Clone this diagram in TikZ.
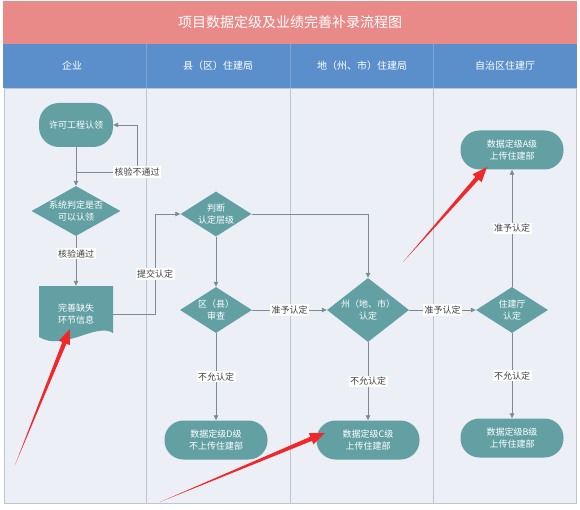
\documentclass[tikz,border=0pt]{standalone}
\usepackage{fontspec}
\setmainfont{Noto Sans CJK SC}
\usepackage{tikz}
\usetikzlibrary{arrows.meta,shapes.geometric,calc}

\definecolor{titlered}{HTML}{E98A88}
\definecolor{headblue}{HTML}{5B8FCC}
\definecolor{lanebg}{HTML}{ECF0F6}
\definecolor{laneline}{HTML}{BAC6D6}
\definecolor{nodeteal}{HTML}{62A0A4}
\definecolor{edgegray}{HTML}{7E8A90}
\definecolor{markred}{HTML}{F0282A}

\begin{document}
\begin{tikzpicture}[x=1pt,y=-1pt]
        \tikzset{
          term/.style={rectangle, rounded corners=19pt, fill=nodeteal, text=white, align=center,
                       minimum width=103pt, minimum height=39pt, inner sep=0pt,
                       font=\fontsize{9}{12}\selectfont},
          decide/.style={diamond, fill=nodeteal, text=white, align=center, inner sep=-2pt,
                         font=\fontsize{9}{12}\selectfont},
          flow/.style={edgegray, line width=0.8pt, -{Triangle[length=5pt,width=4.5pt]}},
          lbl/.style={fill=white, inner sep=1.5pt, text=black!75, font=\fontsize{9}{10}\selectfont},
          lanehead/.style={text=white, font=\fontsize{10}{12}\selectfont}
        }
        \useasboundingbox (0,0) rectangle (580,510);
        \fill[white] (0,0) rectangle (580,510);

	%---LANES---
        \fill[titlered] (3,1) rectangle (577,44);
        \fill[headblue] (3,44) rectangle (577,88);
        \draw[laneline, fill=lanebg] (4,88) rectangle (576,503);
        \foreach \x in {146,290,433} {
            \draw[headblue!80!white] (\x,44) -- (\x,88);
            \draw[laneline] (\x,88) -- (\x,503);
        }
        \node[text=white, font=\fontsize{14}{16}\selectfont] (title) at (290,22) {项目数据定级及业绩完善补录流程图};
        \node[lanehead] (lane1) at (72,66) {企业};
        \node[lanehead] (lane2) at (218,66) {县（区）住建局};
        \node[lanehead] (lane3) at (362,66) {地（州、市）住建局};
        \node[lanehead] (lane4) at (505,66) {自治区住建厅};

	%---NODES---
        % document shape under its text
        \fill[nodeteal] (39,286) -- (113,286) -- (113,333)
            .. controls (96,322) and (64,352) .. (39,337) -- cycle;
        \node[minimum width=74pt, minimum height=56pt, text=white, align=center, inner sep=0pt,
              font=\fontsize{9}{12}\selectfont] (doc) at (76,314) {完善缺失\\环节信息};

        \node[term, minimum width=74pt, minimum height=44pt, rounded corners=20pt] (claim) at (76,125) {许可工程认领};
        \node[decide, aspect=1.78, minimum width=89pt, minimum height=50pt] (sysjudge) at (76,211) {系统判定是否\\可以认领};
        \node[decide, aspect=1.58, minimum width=71pt, minimum height=45pt] (rank) at (216,214) {判断\\认定层级};
        \node[decide, aspect=1.57, minimum width=72pt, minimum height=46pt] (county) at (216,310) {区（县）\\审查};
        \node[decide, aspect=1.28, minimum width=82pt, minimum height=64pt] (pref) at (368,310) {州（地、市）\\认定};
        \node[decide, aspect=1.57, minimum width=72pt, minimum height=46pt] (region) at (512,310) {住建厅\\认定};
        \node[term] (gradeA) at (512,150) {数据定级A级\\上传住建部};
        \node[term] (gradeB) at (512,438) {数据定级B级\\上传住建部};
        \node[term] (gradeC) at (368,440) {数据定级C级\\上传住建部};
        \node[term] (gradeD) at (216,440) {数据定级D级\\不上传住建部};

        \coordinate (failpt) at (76,172);
        \coordinate (failcorner) at (137,172);
        \coordinate (failup) at (137,125);
        \coordinate (subup) at (155,214);

	%---EDGES---
        \draw[flow] (claim) -- (sysjudge);
        \draw[flow] (failpt) -- (failcorner) -- (failup) -- (claim.east);
        \draw[flow] (sysjudge) -- node[lbl, pos=0.35] {核验通过} (doc);
        \draw[flow] (doc.east) -| node[lbl, pos=0.7] {提交认定} (subup) -- (rank.west);
        \draw[flow] (rank.east) -| (pref.north);
        \draw[flow] (rank) -- (county);
        \draw[flow] (county) -- node[lbl] {准予认定} (pref);
        \draw[flow] (pref) -- node[lbl] {准予认定} (region);
        \draw[flow] (region) -- node[lbl] {准予认定} (gradeA);
        \draw[flow] (region) -- node[lbl] {不允认定} (gradeB);
        \draw[flow] (pref) -- node[lbl] {不允认定} (gradeC);
        \draw[flow] (county) -- node[lbl] {不允认定} (gradeD);

	%---LABELS---
        \node[lbl] (faillbl) at (failcorner) {核验不通过};

	%---MARKS---
        \coordinate (tail1) at (15,465);
        \coordinate (tip1) at (70,329);
        \coordinate (tail2) at (160,502);
        \coordinate (tip2) at (325,433);
        \coordinate (tail3) at (403,262);
        \coordinate (tip3) at (487,167);
        \foreach \i in {1,2,3} {
            \coordinate (neck\i) at ($(tip\i)!15pt!(tail\i)$);
            \fill[markred] (tail\i) -- ($(neck\i)!2.2pt!90:(tip\i)$) -- ($(neck\i)!6pt!90:(tip\i)$)
                -- (tip\i) -- ($(neck\i)!6pt!-90:(tip\i)$) -- ($(neck\i)!2.2pt!-90:(tip\i)$) -- cycle;
        }

    \end{tikzpicture}
\end{document}
